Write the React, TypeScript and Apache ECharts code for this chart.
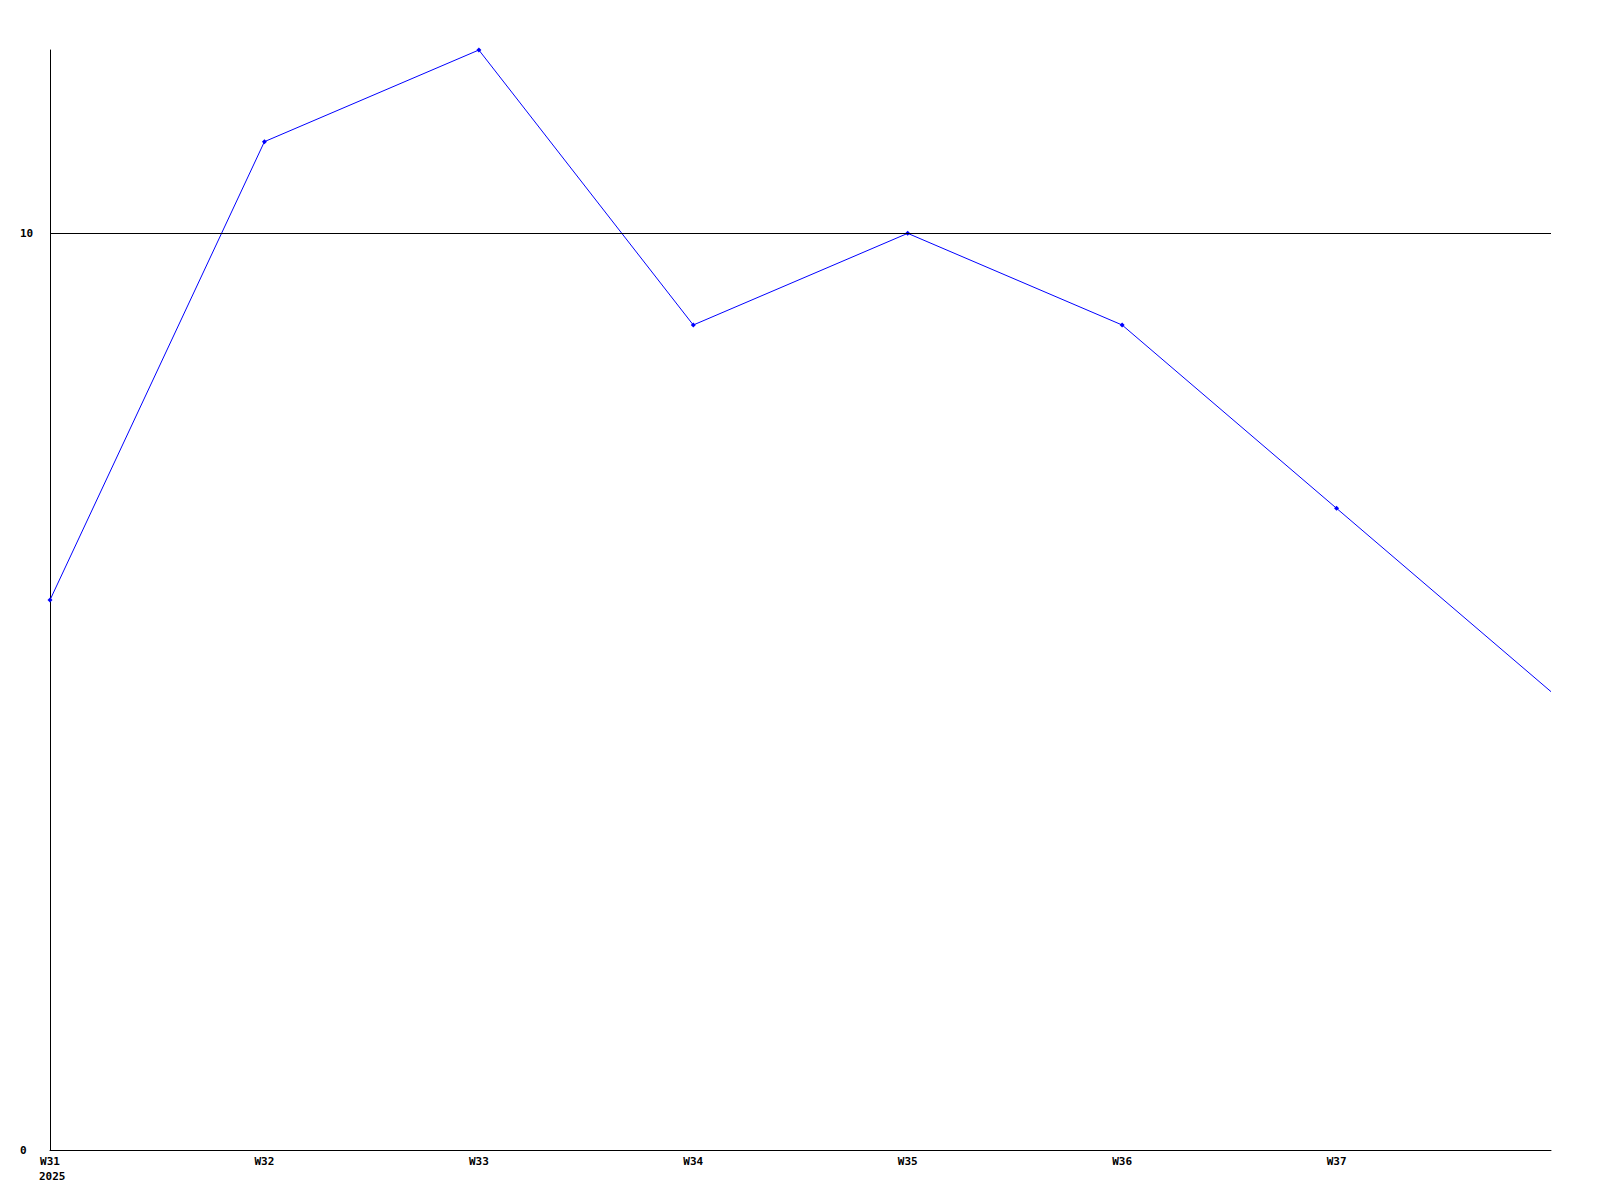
import React, { useEffect, useRef } from "react";
import * as echarts from "echarts";

const weeks = ["W31", "W32", "W33", "W34", "W35", "W36", "W37", ""];
const values = [6, 11, 12, 9, 10, 9, 7, 5];
const yearLabel = "2025";
const yMin = 0;
const yMax = 12;
const yInterval = 10;
const refLine = 10;

const FONT = "DejaVu Sans Mono";

export default function App() {
  const ref = useRef<HTMLDivElement>(null);
  useEffect(() => {
    document.body.style.margin = "0";
    if (!ref.current) return;
    const chart = echarts.init(ref.current, null, { renderer: "svg" });
    chart.setOption({
      animation: false,
      backgroundColor: "#ffffff",
      grid: { left: 50, right: 49, top: 50, bottom: 50, containLabel: false },
      xAxis: {
        type: "category",
        data: weeks,
        boundaryGap: false,
        axisLine: { show: true, lineStyle: { color: "#000", width: 1 } },
        axisTick: { show: false },
        axisLabel: {
          show: true,
          interval: 0,
          margin: 6,
          color: "#000",
          fontFamily: FONT,
          fontWeight: "bold",
          fontSize: 11,
        },
        splitLine: { show: false },
      },
      yAxis: {
        type: "value",
        min: yMin,
        max: yMax,
        interval: yInterval,
        axisLine: { show: true, lineStyle: { color: "#000", width: 1 } },
        axisTick: { show: false },
        splitLine: { show: false },
        axisLabel: {
          show: true,
          align: "left",
          margin: 30,
          color: "#000",
          fontFamily: FONT,
          fontWeight: "bold",
          fontSize: 11,
          formatter: (v: number) => (v % yInterval === 0 ? String(v) : ""),
        },
      },
      graphic: [
        {
          type: "text",
          left: 39,
          top: 1171,
          style: {
            text: yearLabel,
            fill: "#000",
            font: `bold 11px "${FONT}"`,
          },
        },
      ],
      series: [
        {
          type: "line",
          data: values.map((v, i) =>
            i === values.length - 1
              ? { value: v, symbol: "none" }
              : { value: v }
          ),
          symbol: "diamond",
          symbolSize: 5,
          showSymbol: true,
          lineStyle: { color: "#0000ff", width: 1 },
          itemStyle: { color: "#0000ff" },
          markLine: {
            silent: true,
            symbol: "none",
            label: { show: false },
            lineStyle: { color: "#000", width: 1, type: "solid" },
            data: [{ yAxis: refLine }],
          },
          z: 3,
        },
      ],
    });
    return () => chart.dispose();
  }, []);
  return (
    <div
      ref={ref}
      style={{ position: "absolute", left: 0, top: 0, width: 1600, height: 1200 }}
    />
  );
}
